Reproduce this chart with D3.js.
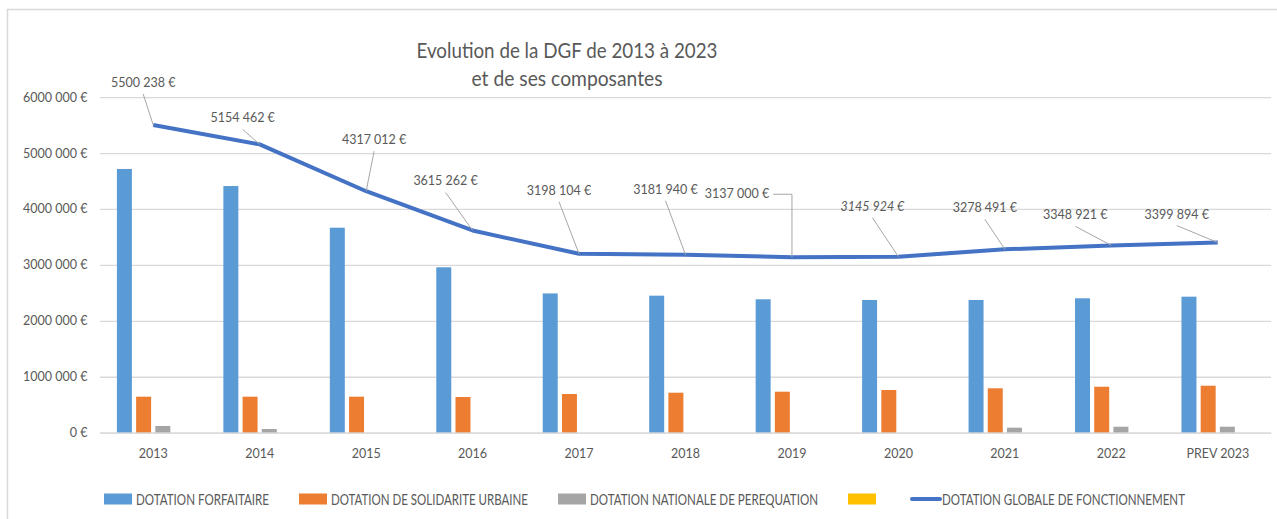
<!DOCTYPE html>
<html>
<head>
<meta charset="utf-8">
<script src="https://cdn.jsdelivr.net/npm/d3@7"></script>
<style>
  body { margin: 0; background: #fff; }
  svg { display: block; }
</style>
</head>
<body>
<svg id="chart" width="1277" height="519"></svg>
<script>
// Données : DGF et composantes 2013-2023
const categories = ["2013", "2014", "2015", "2016", "2017", "2018", "2019", "2020", "2021", "2022", "PREV 2023"];
const dotForfaitaire = [4715000, 4410000, 3665000, 2957000, 2490000, 2450000, 2385000, 2373000, 2373000, 2403000, 2432000];
const dotSolidarite = [644000, 644000, 644000, 638000, 692000, 715000, 733000, 763000, 794000, 822000, 840000];
const dotPerequation = [120000, 66000, 0, 0, 0, 0, 0, 0, 90000, 107000, 107000];
const dotVide = [0, 0, 0, 0, 0, 0, 0, 0, 0, 0, 0];
const dgfTotal = [5500238, 5154462, 4317012, 3615262, 3198104, 3181940, 3137000, 3145924, 3278491, 3348921, 3399894];
const yTicks = [0, 1000000, 2000000, 3000000, 4000000, 5000000, 6000000];
const seriesNames = ["DOTATION FORFAITAIRE", "DOTATION DE SOLIDARITE URBAINE", "DOTATION NATIONALE DE PEREQUATION", "", "DOTATION GLOBALE DE FONCTIONNEMENT"];
const titleLines = ["Evolution de la DGF de 2013 à 2023", "et de ses composantes"];

const barSeries = [
    { name: seriesNames[0], values: dotForfaitaire, color: "#5B9BD5" },
    { name: seriesNames[1], values: dotSolidarite, color: "#ED7D31" },
    { name: seriesNames[2], values: dotPerequation, color: "#A5A5A5" },
    { name: seriesNames[3], values: dotVide, color: "#FFC000" }
];
const lineColor = "#4472C4";
const textColor = "#595959";
const numFont = "Lato, 'Open Sans', sans-serif";

// décalage des étiquettes de la courbe (px, par rapport au point)
const labelOffsets = [[-10, -38], [-17, -22], [8, -47], [-27, -45], [-20, -59], [-20, -61], [-55, -59], [-26, -46], [-20, -37], [-36, -26], [-41, -24]];

function fmtEuro(v) {
    if (v === 0) return "0 €";
    const m = Math.floor(v / 1e6);
    const k = Math.floor((v % 1e6) / 1000);
    const u = v % 1000;
    const p3 = n => String(n).padStart(3, "0");
    return `${m}${p3(k)} ${p3(u)} €`;
}

const svg = d3.select("#chart");

// cadre
svg.append("rect").attr("x", 7.5).attr("y", 9.5).attr("width", 1400).attr("height", 600)
    .attr("fill", "#fff").attr("stroke", "#d9d9d9").attr("stroke-width", 1.5);

const plot = { left: 100, right: 1271, top: 97.1, bottom: 432.7 };

const x0 = d3.scaleBand().domain(categories).range([plot.left, plot.right]).paddingInner(0.318).paddingOuter(0.159);
const x1 = d3.scaleBand().domain(d3.range(barSeries.length)).range([0, x0.bandwidth()]).paddingInner(0.22);
const y = d3.scaleLinear().domain([0, 6000000]).range([plot.bottom, plot.top]);

// grille + axe Y
const yAxis = svg.append("g").attr("transform", `translate(${plot.left},0)`)
    .call(d3.axisLeft(y).tickValues(yTicks).tickSize(-(plot.right - plot.left)).tickPadding(12.5).tickFormat(fmtEuro));
yAxis.select(".domain").remove();
yAxis.selectAll(".tick line").attr("stroke", "#d9d9d9").attr("stroke-width", 1.3);
yAxis.selectAll(".tick text").attr("fill", textColor).attr("font-family", numFont).attr("font-size", 12.5);

// barres
barSeries.forEach((s, si) => {
    svg.append("g").selectAll("rect").data(s.values).join("rect")
        .attr("x", (d, i) => x0(categories[i]) + x1(si))
        .attr("width", x1.bandwidth())
        .attr("y", d => y(d))
        .attr("height", d => plot.bottom - y(d))
        .attr("fill", s.color);
});

// axe X
const xAxis = svg.append("g").attr("transform", `translate(0,${plot.bottom})`)
    .call(d3.axisBottom(x0).tickSize(0).tickPadding(16.5));
xAxis.select(".domain").attr("stroke", "#d9d9d9").attr("stroke-width", 1.3);
xAxis.selectAll(".tick text").attr("fill", textColor).attr("font-family", numFont).attr("font-size", 12.5);

// courbe DGF
const pts = dgfTotal.map((v, i) => ({ x: x0(categories[i]) + x0.bandwidth() / 2, y: y(v), v: v, i: i }));
svg.append("path").datum(pts)
    .attr("fill", "none").attr("stroke", lineColor).attr("stroke-width", 4).attr("stroke-linejoin", "round")
    .attr("d", d3.line().x(d => d.x).y(d => d.y));

// étiquettes + traits de rappel
const labG = svg.append("g");
pts.forEach(p => {
    const [dx, dy] = labelOffsets[p.i];
    const tx = p.x + dx, ty = p.y + dy;
    const t = labG.append("text").attr("x", tx).attr("y", ty).attr("text-anchor", "middle")
        .attr("fill", textColor).attr("font-family", numFont).attr("font-size", 12.5)
        .attr("font-style", categories[p.i] === "2020" ? "italic" : null)
        .text(fmtEuro(p.v));
    if (categories[p.i] === "2019") {
        const w = t.node().getComputedTextLength();
        labG.append("path").attr("fill", "none").attr("stroke", "#a6a6a6").attr("stroke-width", 1)
            .attr("d", `M${tx + w / 2 + 4},${ty - 4}H${p.x}V${p.y}`);
    } else {
        labG.append("line").attr("x1", tx).attr("y1", ty + 7).attr("x2", p.x).attr("y2", p.y)
            .attr("stroke", "#a6a6a6").attr("stroke-width", 1);
    }
});

// titre
const titleW = [301, 191];
titleLines.forEach((l, i) => {
    svg.append("text").attr("x", 567).attr("y", 58 + i * 28).attr("text-anchor", "middle")
        .attr("fill", textColor).attr("font-family", "Lato, 'Open Sans', sans-serif").attr("font-size", 20.5)
        .attr("textLength", titleW[i]).attr("lengthAdjust", "spacingAndGlyphs")
        .text(l);
});

// légende
const legendW = [133, 197, 228, 0, 243];
const legendColors = barSeries.map(s => s.color).concat([lineColor]);
let lx = 104;
const ly = 499;
seriesNames.forEach((name, i) => {
    if (i < 4) {
        svg.append("rect").attr("x", lx).attr("y", ly - 5.5).attr("width", 28).attr("height", 11).attr("fill", legendColors[i]);
    } else {
        svg.append("line").attr("x1", lx + 2).attr("x2", lx + 30).attr("y1", ly).attr("y2", ly)
            .attr("stroke", lineColor).attr("stroke-width", 4).attr("stroke-linecap", "round");
    }
    lx += 32;
    if (name) {
        svg.append("text").attr("x", lx).attr("y", ly + 5.5)
            .attr("fill", textColor).attr("font-family", "Lato, 'Open Sans', sans-serif").attr("font-size", 14.5)
            .attr("textLength", legendW[i]).attr("lengthAdjust", "spacingAndGlyphs")
            .text(name);
    }
    lx += legendW[i] + 30;
});
</script>
</body>
</html>
